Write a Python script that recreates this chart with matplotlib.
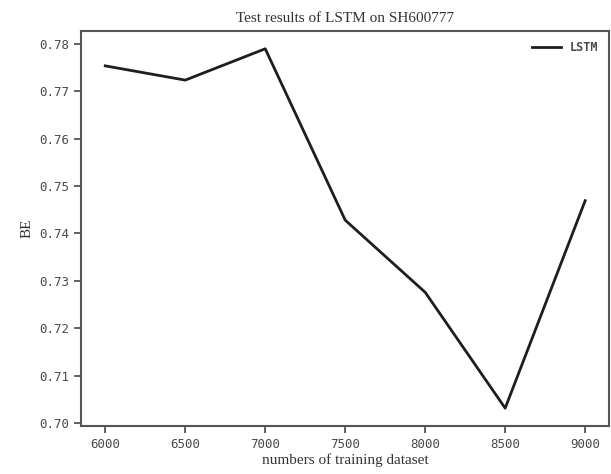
import matplotlib.pyplot as plt

# BE of the LSTM model for each training set size
train_sizes = [6000, 6500, 7000, 7500, 8000, 8500, 9000]
be_values = [0.7753, 0.7723, 0.7789, 0.7428, 0.7276, 0.7032, 0.7469]
y_ticks = [0.70, 0.71, 0.72, 0.73, 0.74, 0.75, 0.76, 0.77, 0.78]

serif = ['Liberation Serif', 'DejaVu Serif']
mono = ['DejaVu Sans Mono']
grey = '#4a4a4a'

fig = plt.figure(figsize=(6.11, 4.74), dpi=100)
ax = fig.add_axes([0.133, 0.101, 0.864, 0.834])

ax.plot(train_sizes, be_values, color='#1e1e1e', linewidth=2, label='LSTM')

ax.set_yticks(y_ticks)
ax.set_yticklabels(['%.2f' % v for v in y_ticks])
ax.set_xticks(train_sizes)

for lbl in ax.get_xticklabels() + ax.get_yticklabels():
    lbl.set_family(mono)
    lbl.set_fontsize(9)
    lbl.set_color(grey)

for sp in ax.spines.values():
    sp.set_color('#555555')
    sp.set_linewidth(1.5)
ax.tick_params(color='#555555', width=1.3, length=5)

ax.set_title('Test results of LSTM on SH600777', family=serif, fontsize=11, color='#333333')
ax.set_xlabel('numbers of training dataset', family=serif, fontsize=11, color='#333333', labelpad=2)
ax.set_ylabel('BE', family=serif, fontsize=11, color='#333333')

leg = ax.legend(loc='upper right', frameon=False, handlelength=2.4,
                prop={'family': mono, 'size': 8.5, 'weight': 'bold'})
for t in leg.get_texts():
    t.set_color(grey)

fig.savefig('out.png', dpi=100)
